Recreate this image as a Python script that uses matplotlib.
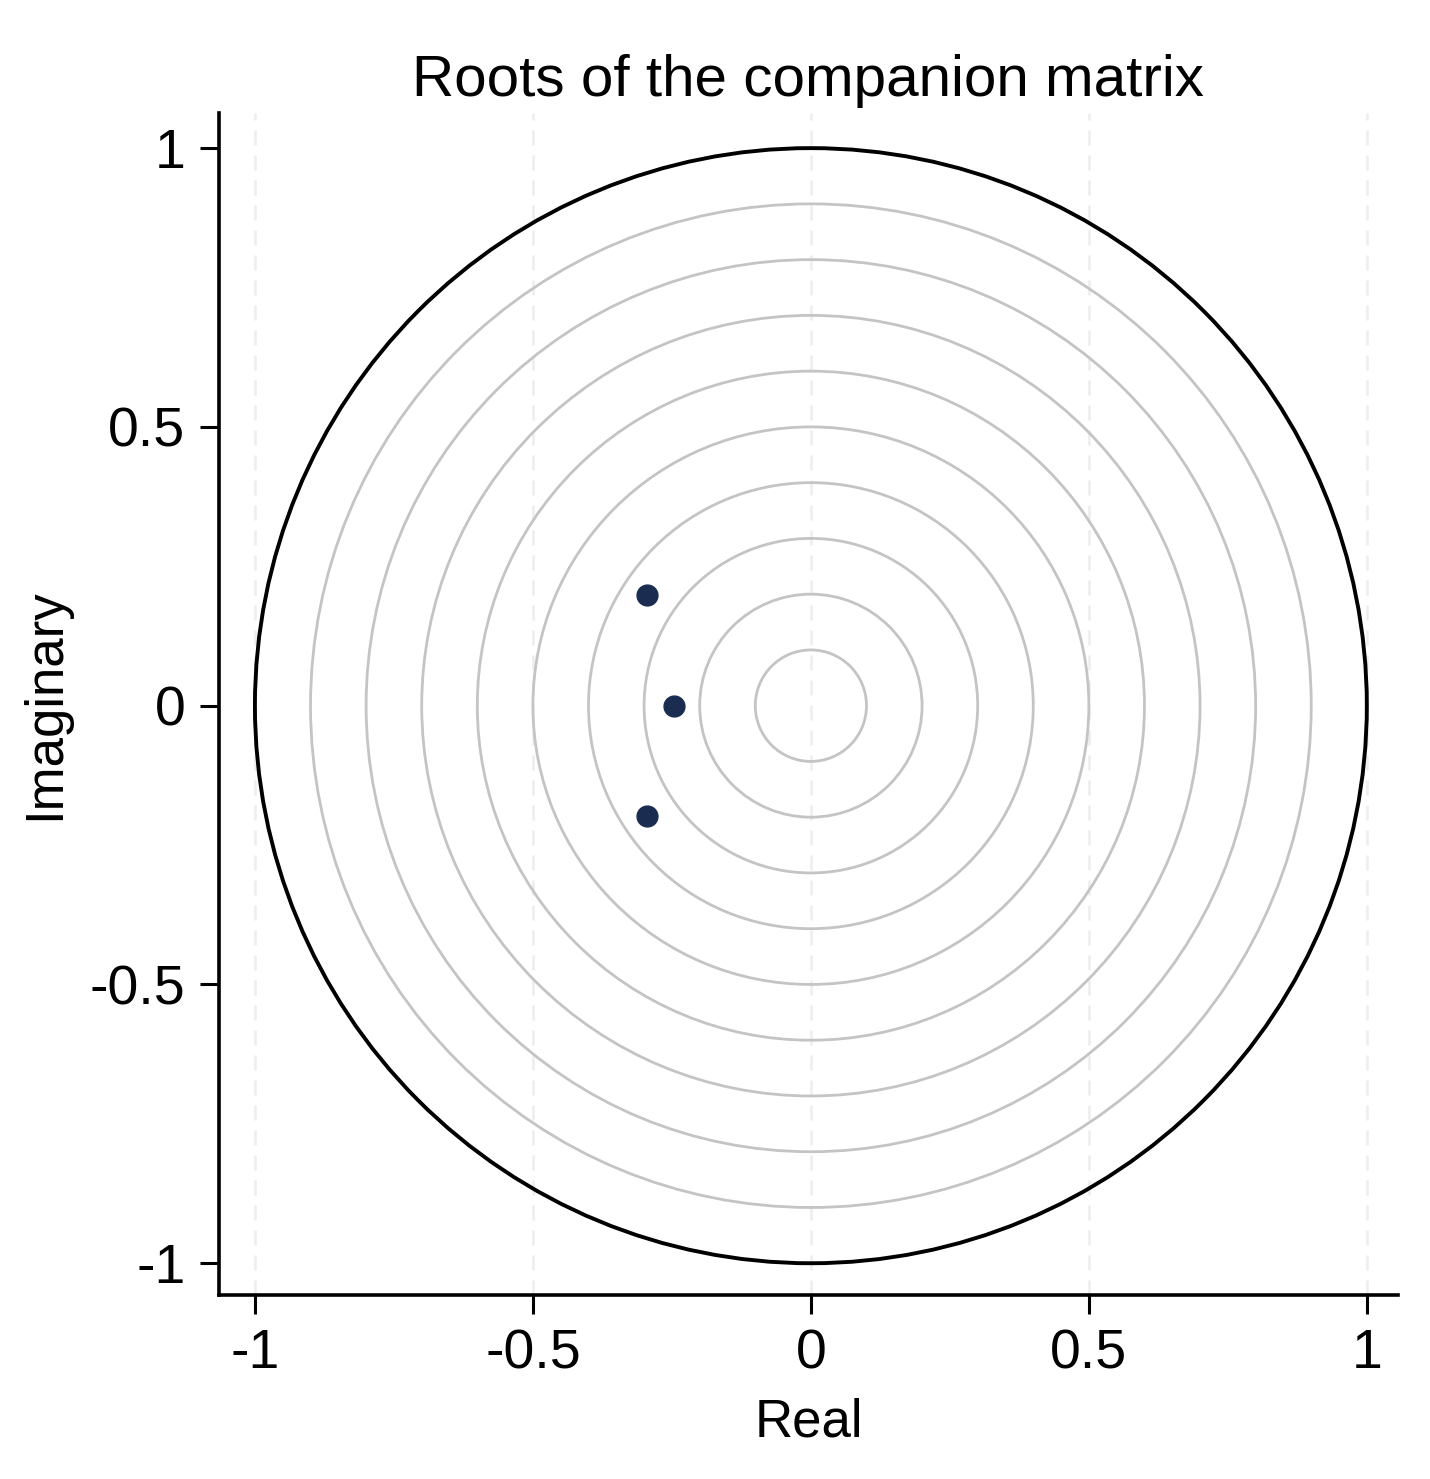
import numpy as np
import matplotlib.pyplot as plt
from matplotlib.patches import Circle

plt.rcParams['font.family'] = ['Liberation Sans', 'DejaVu Sans']

# eigenvalues of the companion matrix
re_part = [-0.295, -0.246, -0.295]
im_part = [0.198, 0.0, -0.198]

grid_radii = [0.1, 0.2, 0.3, 0.4, 0.5, 0.6, 0.7, 0.8, 0.9]
ticks = [-1, -0.5, 0, 0.5, 1]
tick_labels = ['-1', '-0.5', '0', '0.5', '1']

fig = plt.figure(figsize=(14.30, 14.79), dpi=100)
ax = fig.add_axes([0.153, 0.1244, 0.8246, 0.7992])

for x in ticks:
    ax.axvline(x, color='#ededed', lw=1.8, ls=(0, (6, 4)), zorder=0)

for r in grid_radii:
    ax.add_patch(Circle((0, 0), r, fill=False, ec='#c4c4c4', lw=2.0, zorder=1))
ax.add_patch(Circle((0, 0), 1.0, fill=False, ec='black', lw=2.8, zorder=2))

ax.plot(re_part, im_part, 'o', color='#1a2d50', ms=15, zorder=3)

ax.set_xlim(-1.065, 1.056)
ax.set_ylim(-1.057, 1.063)
ax.set_xticks(ticks)
ax.set_xticklabels(tick_labels)
ax.set_yticks(ticks)
ax.set_yticklabels(tick_labels)
ax.tick_params(labelsize=40, length=14, width=2.2, pad=10)

for s in ['top', 'right']:
    ax.spines[s].set_visible(False)
for s in ['left', 'bottom']:
    ax.spines[s].set_linewidth(2.6)

ax.set_xlabel('Real', fontsize=38, labelpad=12)
ax.set_ylabel('Imaginary', fontsize=38, labelpad=14)
ax.set_title('Roots of the companion matrix', fontsize=42, pad=12)

fig.savefig('out.png', dpi=100, facecolor='white')
